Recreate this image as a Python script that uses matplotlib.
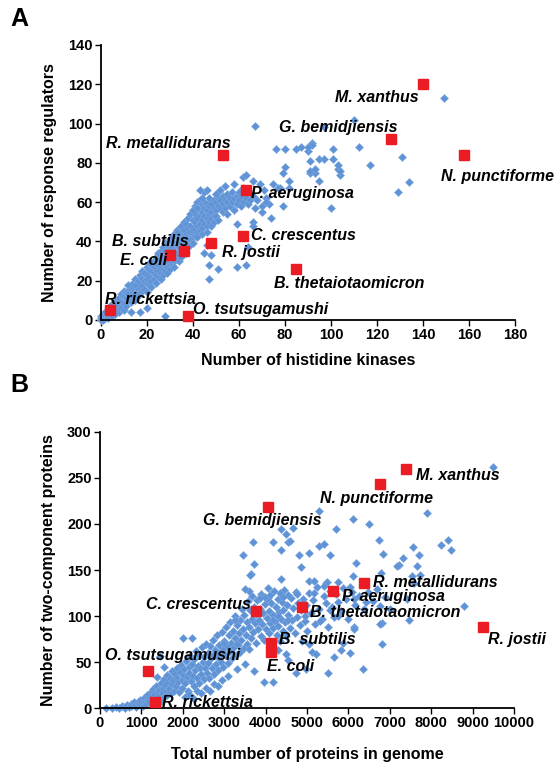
#!/usr/bin/env python3
"""Two-component systems across genomes -> out.png (panels A and B)."""

import matplotlib
matplotlib.use("Agg")
import matplotlib.pyplot as plt

plt.rcParams["font.family"] = ["Liberation Sans", "DejaVu Sans"]
plt.rcParams["font.weight"] = "bold"

BLUE = "#5f93d6"
RED = "#ec1c24"

# ---- panel A: histidine kinases vs response regulators (all genomes) ----
a_genomes = [
    (0, 0), (0, 1), (0, 2), (1, 0), (1, 2), (1, 3), (2, 1), (2, 4), (3, 2), (3, 5), (3, 1), (4, 3),
    (4, 7), (5, 4), (5, 8), (5, 2), (6, 6), (6, 3), (6, 9), (7, 5), (7, 10), (8, 7), (8, 11), (8, 4),
    (9, 9), (9, 6), (9, 13), (10, 8), (10, 12), (10, 5), (10, 15), (11, 11), (11, 7), (11, 14),
    (12, 10), (12, 15), (12, 13), (12, 18), (13, 12), (13, 9), (13, 16), (14, 14), (14, 19), (14, 11),
    (14, 17), (15, 13), (15, 18), (15, 21), (15, 10), (16, 16), (16, 12), (16, 20), (17, 19), (17, 14),
    (17, 23), (17, 17), (18, 15), (18, 21), (18, 18), (18, 25), (19, 20), (19, 16), (19, 24), (20, 19),
    (20, 23), (20, 14), (20, 27), (20, 21), (21, 22), (21, 18), (21, 26), (21, 29), (22, 20), (22, 25),
    (22, 17), (22, 28), (23, 24), (23, 21), (23, 30), (23, 27), (24, 19), (24, 26), (24, 23), (24, 32),
    (25, 28), (25, 22), (25, 25), (25, 31), (25, 34), (26, 24), (26, 27), (26, 21), (26, 30), (26, 35),
    (27, 29), (27, 26), (27, 33), (27, 23), (27, 37), (28, 27), (28, 31), (28, 25), (28, 35), (28, 39),
    (29, 30), (29, 34), (29, 27), (29, 38), (29, 24), (30, 32), (30, 28), (30, 36), (30, 41), (30, 26),
    (30, 34), (31, 33), (31, 29), (31, 37), (31, 42), (31, 31), (32, 35), (32, 30), (32, 39), (32, 27),
    (32, 44), (33, 34), (33, 38), (33, 31), (33, 42), (33, 46), (34, 37), (34, 33), (34, 40), (34, 45),
    (34, 30), (35, 39), (35, 35), (35, 43), (35, 48), (35, 32), (35, 41), (36, 38), (36, 42), (36, 36),
    (36, 46), (36, 50), (37, 41), (37, 37), (37, 44), (37, 49), (37, 34), (38, 43), (38, 39), (38, 47),
    (38, 52), (38, 41), (39, 45), (39, 41), (39, 48), (39, 54), (39, 38), (40, 44), (40, 47), (40, 42),
    (40, 51), (40, 56), (40, 39), (41, 46), (41, 50), (41, 43), (41, 54), (41, 58), (42, 48), (42, 45),
    (42, 52), (42, 57), (42, 60), (42, 42), (43, 49), (43, 53), (43, 46), (43, 56), (43, 61), (44, 51),
    (44, 47), (44, 55), (44, 59), (44, 44), (45, 53), (45, 49), (45, 57), (45, 60), (46, 52), (46, 56),
    (46, 48), (46, 59), (46, 45), (47, 54), (47, 58), (47, 50), (47, 62), (48, 55), (48, 52), (48, 59),
    (48, 48), (49, 57), (49, 53), (49, 61), (49, 50),
    (50, 56), (50, 60), (50, 53), (50, 64), (51, 58), (51, 62), (51, 51), (52, 57), (52, 61), (52, 66),
    (53, 59), (53, 55), (53, 63), (54, 61), (54, 57), (54, 68), (55, 60), (55, 64), (55, 54), (56, 62),
    (56, 58), (57, 65), (57, 60), (58, 62), (58, 56), (58, 69), (59, 63), (59, 59), (60, 61), (60, 65),
    (61, 58), (61, 63), (62, 67), (62, 60), (63, 62), (64, 59), (64, 65), (65, 61), (66, 63), (67, 57),
    (68, 61), (70, 58), (72, 62), (71, 66),
    (149, 113), (110, 102), (67, 99), (97, 98), (92, 90), (76, 87), (80, 87), (85, 87), (87, 88),
    (90, 86), (101, 87), (112, 88), (91, 81), (95, 82), (97, 82), (101, 82), (117, 79), (131, 83),
    (80, 78), (79, 75), (91, 75), (93, 75), (103, 77), (104, 74), (95, 71), (82, 71), (134, 70),
    (129, 65), (62, 73), (66, 71), (69, 69), (75, 69), (78, 67), (82, 67), (45, 65), (50, 64), (44, 62),
    (100, 57), (79, 58), (74, 52), (66, 50), (66, 48), (59, 49), (40, 56), (33, 45), (45, 34), (46, 38),
    (47, 28), (51, 26), (47, 21), (59, 27), (63, 28), (28, 2), (13, 4), (20, 6), (92, 89), (90, 88),
    (91, 76), (93, 77), (103, 79), (104, 76), (73, 59), (77, 67), (46, 66), (43, 66), (63, 74), (42, 57),
    (17, 4), (64, 37), (48, 33), (72, 60), (70, 55),
]

a_species = ["M. xanthus", "G. bemidjiensis", "N. punctiforme", "R. metallidurans", "P. aeruginosa",
             "C. crescentus", "R. jostii", "B. subtilis", "E. coli", "B. thetaiotaomicron",
             "R. rickettsia", "O. tsutsugamushi"]
a_hk = [140, 126, 158, 53, 63, 62, 48, 36, 30, 85, 4, 38]
a_rr = [120, 92, 84, 84, 66, 43, 39, 35, 33, 26, 5, 2]

# ---- panel B: genome size vs two-component proteins ----
b_genomes = [
    (150, 0), (300, 0), (380, 1), (460, 0), (520, 2), (570, 1), (610, 0), (660, 3), (690, 1), (740, 4),
    (760, 2), (810, 6), (840, 3), (870, 1), (910, 7), (940, 4), (970, 9), (1010, 5), (1030, 2),
    (1060, 11), (1090, 7), (1120, 4), (1140, 14), (1170, 9), (1190, 6), (1230, 17), (1240, 12),
    (1270, 8), (1290, 21), (1310, 15), (1340, 10), (1360, 24), (1370, 18), (1410, 13), (1430, 20),
    (1440, 7), (1470, 27), (1490, 16), (1510, 22), (1530, 11), (1550, 31), (1570, 25), (1590, 18),
    (1610, 14), (1630, 36), (1650, 28), (1660, 21), (1690, 33), (1710, 16), (1730, 40), (1740, 26),
    (1770, 30), (1790, 19), (1800, 37), (1830, 24), (1850, 43), (1860, 33), (1890, 28), (1910, 17),
    (1930, 39), (1950, 47), (1970, 30), (1990, 22), (2000, 36), (2040, 42), (2060, 27), (2080, 51),
    (2100, 34), (2120, 19), (2140, 45), (2160, 38), (2180, 56), (2200, 29), (2220, 48), (2240, 35),
    (2260, 24), (2280, 53), (2300, 41), (2320, 62), (2340, 33), (2360, 46), (2380, 27), (2400, 58),
    (2420, 44), (2440, 37), (2460, 66), (2480, 50), (2500, 31), (2520, 55), (2540, 43), (2560, 70),
    (2580, 38), (2600, 60), (2620, 49), (2640, 33), (2660, 67), (2680, 54), (2700, 44), (2720, 74),
    (2740, 58), (2760, 37), (2780, 63), (2800, 48), (2820, 79), (2840, 55), (2860, 41), (2880, 69),
    (2900, 60), (2920, 50), (2940, 83), (2960, 64), (2980, 45), (3000, 73), (3030, 58), (3050, 88),
    (3070, 67), (3090, 49), (3110, 79), (3130, 62), (3150, 94), (3170, 71), (3190, 54), (3210, 84),
    (3230, 66), (3250, 100), (3270, 76), (3290, 58), (3310, 90), (3330, 69), (3350, 82), (3370, 61),
    (3390, 96), (3410, 74), (3430, 108), (3450, 86), (3470, 65), (3490, 101), (3520, 79), (3540, 94),
    (3560, 70), (3580, 116), (3600, 88), (3620, 106), (3640, 76), (3660, 97), (3680, 122), (3700, 83),
    (3720, 110), (3740, 92), (3760, 71), (3780, 102), (3800, 117), (3820, 86), (3840, 96), (3860, 108),
    (3880, 78), (3900, 124), (3920, 91), (3940, 103), (3960, 74), (3980, 113), (4010, 86), (4030, 98),
    (4050, 120), (4070, 81), (4090, 105), (4110, 92), (4130, 114), (4150, 68), (4170, 101), (4190, 87),
    (4210, 127), (4230, 95), (4250, 110), (4270, 79), (4290, 118), (4310, 89), (4330, 104), (4350, 73),
    (4370, 97), (4390, 115), (4410, 84), (4430, 106), (4450, 128), (4470, 93), (4490, 78), (4520, 112),
    (4550, 101), (4580, 87), (4610, 120), (4640, 96), (4670, 109), (4700, 82), (4730, 126), (4760, 99),
    (4790, 114), (4820, 90), (4850, 106), (4880, 73), (4910, 119), (4940, 95), (4970, 112), (5010, 84),
    (5050, 125), (5100, 103), (5150, 117), (5200, 91), (5250, 131), (5300, 108), (5350, 97),
    (5400, 122), (5450, 114), (5500, 88), (5550, 127), (5600, 110), (5650, 99), (5700, 124),
    (5760, 115), (5820, 105), (5880, 130), (5940, 119), (6000, 97), (6080, 126), (6160, 112),
    (6260, 122), (6380, 108), (6480, 126), (6600, 116), (6700, 129), (6880, 121), (7000, 108),
    (2050, 12), (2150, 15), (2250, 11), (2350, 18), (2450, 16), (2550, 22), (2650, 19), (2750, 26),
    (2850, 24), (2950, 30), (3100, 35), (3300, 42), (3500, 48),
    (9490, 262), (7900, 212), (5300, 214), (6120, 205), (6500, 200), (5710, 195), (4380, 195),
    (4650, 196), (4490, 189), (3700, 180), (4190, 180), (4530, 180), (4590, 181), (6740, 183),
    (4370, 172), (5290, 176), (5410, 178), (7560, 175), (7710, 166), (8230, 177), (8400, 183),
    (8480, 172), (3450, 166), (4800, 166), (5050, 168), (5560, 166), (6830, 167), (7310, 163),
    (7210, 155), (6180, 158), (3730, 156), (4850, 153), (3640, 146), (6120, 144), (6780, 147),
    (7730, 145), (4380, 140), (5060, 138), (5480, 137), (5750, 137), (8800, 111), (6800, 92), (6800, 70),
    (6140, 88), (6360, 42), (5510, 38), (5640, 55), (5820, 63), (6040, 60), (5860, 71), (5130, 61),
    (5210, 59), (5050, 70), (4970, 42), (4730, 38), (4530, 52), (4290, 63), (4490, 59), (3970, 28),
    (4170, 28), (3720, 40), (3600, 64), (2010, 76), (2230, 76), (1540, 45), (1460, 56), (1380, 34),
    (3310, 70), (2990, 71), (2830, 59), (3270, 96), (3630, 145), (3590, 127), (3920, 122), (4040, 119),
    (4190, 96), (4310, 100), (4550, 96), (4950, 100), (5320, 95), (5560, 107), (5740, 100), (6130, 86),
    (6770, 91), (7460, 96), (6140, 118), (6430, 115), (6770, 111), (7420, 119), (7180, 154), (7660, 154),
    (7540, 143), (7580, 136), (6040, 131), (5460, 136), (5410, 133), (5180, 125), (4550, 123),
    (4750, 124), (4350, 125), (4430, 121), (3860, 120), (3980, 121), (4100, 123), (4060, 130),
    (3500, 129), (5160, 138),
]

b_species = ["M. xanthus", "N. punctiforme", "G. bemidjiensis", "R. metallidurans", "P. aeruginosa",
             "B. thetaiotaomicron", "C. crescentus", "B. subtilis", "E. coli", "R. jostii",
             "O. tsutsugamushi", "R. rickettsia"]
b_proteins = [7400, 6760, 4050, 6370, 5620, 4870, 3760, 4130, 4130, 9250, 1150, 1340]
b_tcs = [260, 243, 218, 136, 127, 110, 105, 71, 61, 88, 40, 7]

# label anchors (data coords) and alignment
a_label_pos = {
    "M. xanthus": (138, 113.5, "right"), "G. bemidjiensis": (103, 98, "center"),
    "N. punctiforme": (148, 73, "left"), "R. metallidurans": (56.5, 90, "right"),
    "P. aeruginosa": (65.5, 64.5, "left"), "C. crescentus": (65.5, 43, "left"),
    "R. jostii": (52.5, 34.5, "left"), "B. subtilis": (38, 40, "right"),
    "E. coli": (29, 30.5, "right"), "B. thetaiotaomicron": (108, 18.5, "center"),
    "R. rickettsia": (2, 10.5, "left"), "O. tsutsugamushi": (40, 5.5, "left"),
}
b_label_pos = {
    "M. xanthus": (7630, 253, "left"), "N. punctiforme": (5320, 228, "left"),
    "G. bemidjiensis": (5360, 204, "right"), "R. metallidurans": (6600, 136, "left"),
    "P. aeruginosa": (5840, 121, "left"), "B. thetaiotaomicron": (5080, 104, "left"),
    "C. crescentus": (3640, 113, "right"), "B. subtilis": (4330, 75, "left"),
    "E. coli": (4030, 45, "left"), "R. jostii": (9360, 75, "left"),
    "O. tsutsugamushi": (3380, 57, "right"), "R. rickettsia": (1500, 6.5, "left"),
}


def _style(ax, xmax, xstep, ymax, ystep):
    ax.set_xlim(0, xmax)
    ax.set_ylim(0, ymax)
    ax.set_xticks(range(0, xmax + 1, xstep))
    ax.set_yticks(range(0, ymax + 1, ystep))
    for side in ("top", "right"):
        ax.spines[side].set_visible(False)
    for side in ("left", "bottom"):
        ax.spines[side].set_linewidth(1.3)
    ax.tick_params(direction="out", length=4, width=1, labelsize=10.5, pad=2)
    for lab in ax.get_xticklabels() + ax.get_yticklabels():
        lab.set_fontweight("bold")


def _panel(ax, genomes, sx, sy, names, pos):
    gx = [p[0] for p in genomes]
    gy = [p[1] for p in genomes]
    ax.plot(gx, gy, ls="none", marker="D", ms=4.2, color=BLUE, mec="#7ea9e0",
            mew=0.4, clip_on=False, zorder=2)
    ax.plot(sx, sy, ls="none", marker="s", ms=6.6, color=RED, mec=RED,
            clip_on=False, zorder=3)
    for n in names:
        x, y, ha = pos[n]
        ax.text(x, y, n, ha=ha, va="center", fontsize=11.5, fontweight="bold",
                fontstyle="italic", zorder=4, clip_on=False)


fig = plt.figure(figsize=(5.58, 7.65), dpi=100)

ax_a = fig.add_axes([0.1805, 0.5817, 0.7425, 0.3595])
_panel(ax_a, a_genomes, a_hk, a_rr, a_species, a_label_pos)
_style(ax_a, 180, 20, 140, 20)
ax_a.set_xlabel("Number of histidine kinases", fontsize=11.5, fontweight="bold", labelpad=8)
ax_a.set_ylabel("Number of response regulators", fontsize=11.5, fontweight="bold", labelpad=8)

ax_b = fig.add_axes([0.1792, 0.0745, 0.742, 0.3608])
_panel(ax_b, b_genomes, b_proteins, b_tcs, b_species, b_label_pos)
_style(ax_b, 10000, 1000, 300, 50)
ax_b.set_xlabel("Total number of proteins in genome", fontsize=11.5, fontweight="bold", labelpad=12)
ax_b.set_ylabel("Number of two-component proteins", fontsize=11.5, fontweight="bold", labelpad=8)

fig.text(0.018, 0.975, "A", fontsize=18, fontweight="bold", va="center")
fig.text(0.018, 0.497, "B", fontsize=18, fontweight="bold", va="center")

fig.savefig("out.png", dpi=100)
plt.close(fig)
